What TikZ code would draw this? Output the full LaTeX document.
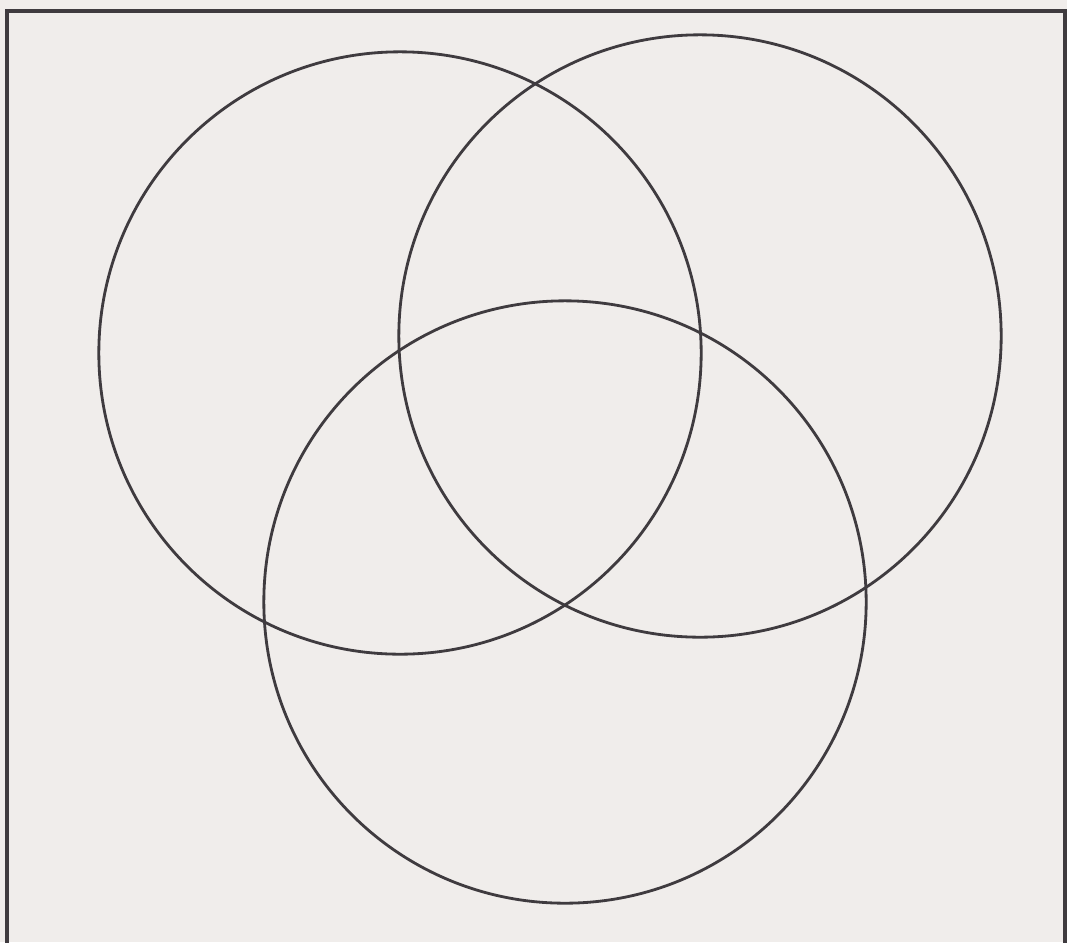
\documentclass[tikz,border=0pt]{standalone}
\usepackage{tikz}
\usepackage{xcolor}
\usetikzlibrary{positioning}

\definecolor{paper}{HTML}{F0EDEB}
\definecolor{ink}{HTML}{3F3B3F}

\begin{document}
\begin{tikzpicture}[
    x=0.01cm, y=-0.01cm,
    % Custom styles for the frame and the three sets
    setcircle/.style={circle, draw=ink, line width=0.8pt, minimum size=6.02cm, inner sep=0pt},
    framebox/.style={draw=ink, line width=1pt}
]

% ==========================================
% PAGE AND FRAME
% ==========================================
\fill[paper] (0,0) rectangle (1067,942);
\useasboundingbox (0,0) rectangle (1067,942);
\begin{scope}
    \clip (0,0) rectangle (1067,942);
    \draw[framebox] (7,980) -- (7,11) -- (1065,11) -- (1065,980);
\end{scope}

% ==========================================
% THE THREE CIRCLES
% ==========================================
\node[setcircle] (setA) at (400,353) {};
\node[setcircle] (setB) at (700,336) {};
\node[setcircle] (setC) at (565,602) {};

\end{tikzpicture}
\end{document}
